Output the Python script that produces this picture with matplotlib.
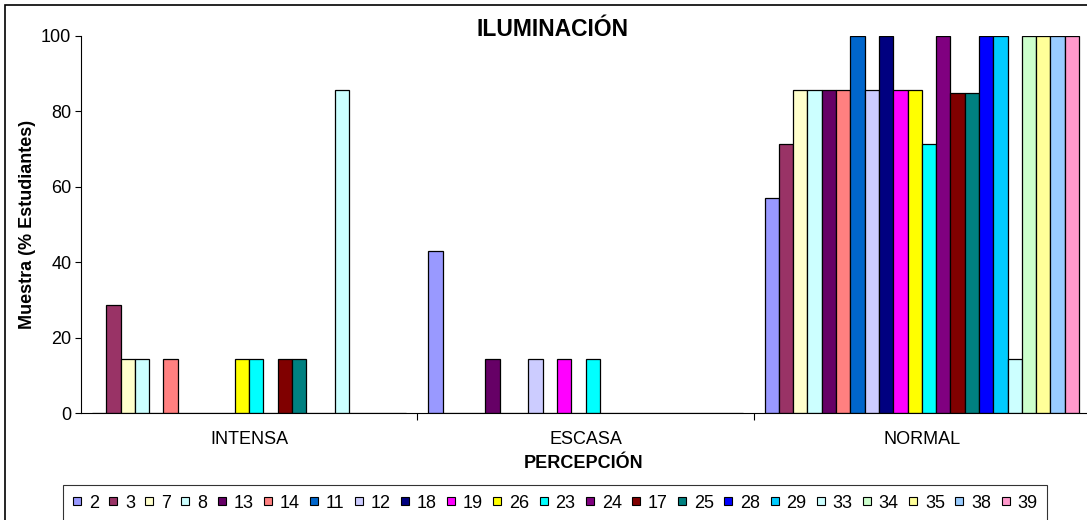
import matplotlib

matplotlib.use("Agg")
import matplotlib.pyplot as plt
import numpy as np
from matplotlib.lines import Line2D
from matplotlib.patches import Rectangle

categories = ["INTENSA", "ESCASA", "NORMAL"]
series = ["2", "3", "7", "8", "13", "14", "11", "12", "18", "19", "26",
          "23", "24", "17", "25", "28", "29", "33", "34", "35", "38", "39"]
colors = ["#9999FF", "#993366", "#FFFFCC", "#CCFFFF", "#660066", "#FF8080",
          "#0066CC", "#CCCCFF", "#000080", "#FF00FF", "#FFFF00", "#00FFFF",
          "#800080", "#800000", "#008080", "#0000FF", "#00CCFF", "#CCFFFF",
          "#CCFFCC", "#FFFF99", "#99CCFF", "#FF99CC"]

intensa = [0, 28.6, 14.3, 14.3, 0, 14.3, 0, 0, 0, 0, 14.3,
           14.3, 0, 14.3, 14.3, 0, 0, 85.7, 0, 0, 0, 0]
escasa = [42.9, 0, 0, 0, 14.3, 0, 0, 14.3, 0, 14.3, 0,
          14.3, 0, 0, 0, 0, 0, 0, 0, 0, 0, 0]
normal = [57.1, 71.4, 85.7, 85.7, 85.7, 85.7, 100, 85.7, 100, 85.7, 85.7,
          71.4, 100, 85.0, 85.0, 100, 100, 14.3, 100, 100, 100, 100]

W, H = 1087, 520
FONT = "Liberation Sans"


def main():
    plt.rcParams["font.family"] = [FONT, "DejaVu Sans"]
    fig = plt.figure(figsize=(W / 100, H / 100), dpi=100)

    # plot area in pixel coordinates (left, right, top, bottom from top edge)
    x0, x1, ytop, ybot = 81, 1090, 36, 413
    ax = fig.add_axes([x0 / W, (H - ybot) / H, (x1 - x0) / W, (ybot - ytop) / H])

    values = np.array([intensa, escasa, normal])  # shape (ncat, nseries)
    nser = len(series)
    span = 0.935
    bw = span / nser
    xs = np.arange(len(categories))
    for j, (name, col) in enumerate(zip(series, colors)):
        pos = xs - span / 2 + bw * (j + 0.5)
        ax.bar(pos, values[:, j], width=bw, color=col, edgecolor="black",
               linewidth=0.9, label=name)

    ax.set_xlim(-0.5, 2.5)
    ax.set_ylim(0, 100)
    ax.set_yticks(np.arange(0, 101, 20))
    ax.tick_params(axis="y", direction="out", length=4, width=0.8, pad=3,
                   labelsize=13)
    ax.set_xticks([0.5, 1.5, 2.5])
    ax.set_xticklabels([])
    ax.set_xticks(xs, minor=True)
    ax.set_xticklabels(categories, minor=True)
    ax.tick_params(axis="x", which="major", direction="out", length=5, width=0.8)
    ax.tick_params(axis="x", which="minor", length=0, pad=13, labelsize=13)
    for s in ["top", "right"]:
        ax.spines[s].set_visible(False)
    for s in ["left", "bottom"]:
        ax.spines[s].set_linewidth(0.8)

    fig.text(553 / W, 1 - 29 / H, "ILUMINACIÓN", ha="center", va="center",
             fontsize=16.5, fontweight="bold")
    fig.text(584 / W, 1 - 463 / H, "PERCEPCIÓN", ha="center", va="center",
             fontsize=13, fontweight="bold")
    fig.text(28 / W, 1 - 224 / H, "Muestra (% Estudiantes)", ha="center",
             va="center", rotation=90, fontsize=13, fontweight="bold")

    # square legend keys like the spreadsheet original
    handles = [Line2D([], [], linestyle="none", marker="s", markersize=6,
                      markerfacecolor=c, markeredgecolor="black",
                      markeredgewidth=0.8) for c in colors]
    leg = fig.legend(handles, series, loc="center",
                     bbox_to_anchor=(555 / W, 1 - 503 / H),
                     ncol=nser, fontsize=13, frameon=True, fancybox=False,
                     handlelength=0.5, handletextpad=0.4,
                     columnspacing=0.55, borderpad=0.55, borderaxespad=0)
    leg.get_frame().set_edgecolor("black")
    leg.get_frame().set_linewidth(0.8)

    # outer chart border
    fig.patches.append(Rectangle((5 / W, -0.1), 2, 1.1 - 5 / H, fill=False,
                                 edgecolor="black", linewidth=1.2,
                                 transform=fig.transFigure, figure=fig))

    fig.savefig("out.png", dpi=100)


if __name__ == "__main__":
    main()
